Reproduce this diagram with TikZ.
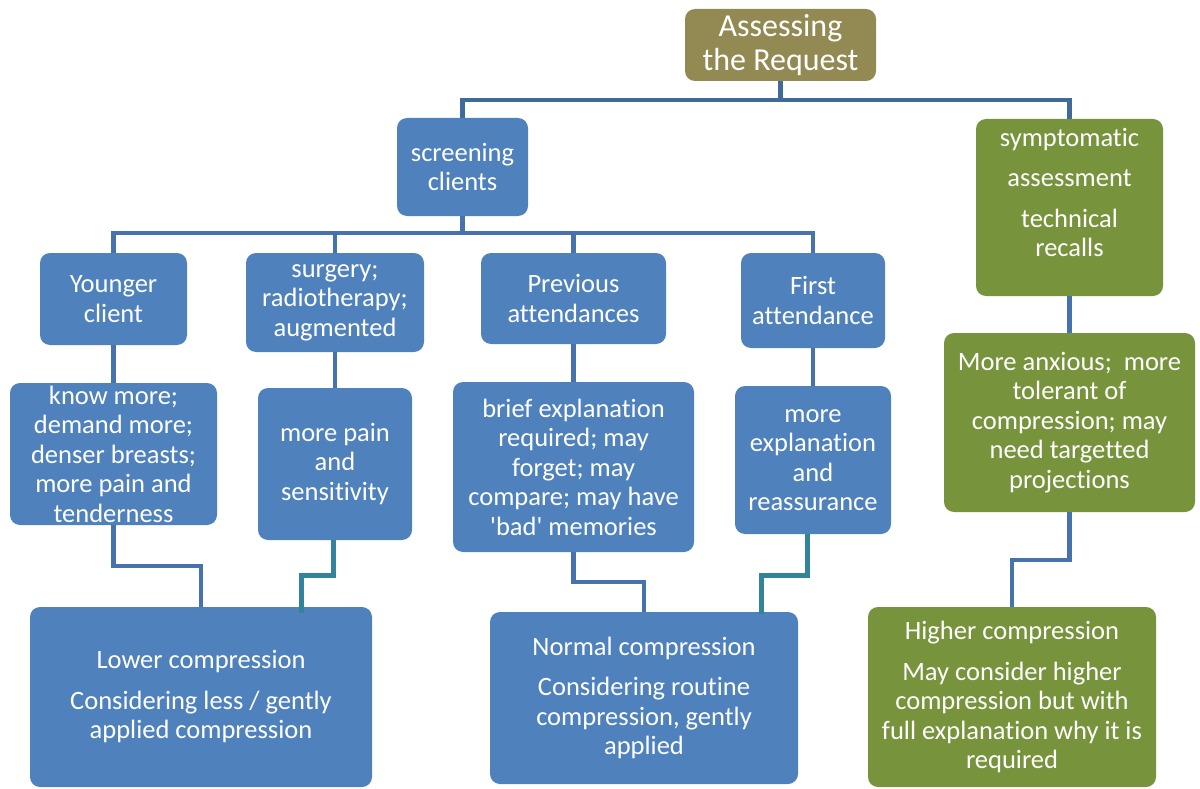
\documentclass[tikz,border=0pt]{standalone}
\usepackage{fontspec}
\setmainfont{Carlito}[Ligatures={TeX,NoCommon}]
\definecolor{boxblue}{HTML}{4F81BD}
\definecolor{boxgreen}{HTML}{77933C}
\definecolor{boxolive}{HTML}{938953}
\definecolor{linkblue}{HTML}{4673AE}
\definecolor{linkdark}{HTML}{3F6A9A}
\definecolor{linkteal}{HTML}{31849B}
\begin{document}
\begin{tikzpicture}
        [x=1pt,y=-1pt,
         every node/.style={rounded corners=10pt,text=white,align=center,inner sep=0pt,font=\fontsize{26.5}{29.5}\selectfont},
         bluebox/.style={fill=boxblue},
         greenbox/.style={fill=boxgreen},
         topbox/.style={fill=boxolive,font=\fontsize{32}{34}\selectfont},
         link/.style={draw=linkblue,line width=4.5pt},
         toplink/.style={draw=linkdark,line width=4.5pt},
         tealink/.style={draw=linkteal,line width=5pt}]
        \useasboundingbox (0,0) rectangle (1200,789);

        \node[topbox,minimum width=191pt,minimum height=72pt] (req) at (780.5,45) {Assessing\\the Request};
        \node[bluebox,minimum width=131pt,minimum height=98pt] (screen) at (462.5,167) {screening\\clients};
        \node[greenbox,minimum width=187pt,minimum height=177pt] (sympt) at (1069.5,207.5)
            {symptomatic\\[11pt]assessment\\[11pt]technical\\recalls\rule[-30pt]{0pt}{30pt}};

        \node[bluebox,minimum width=147pt,minimum height=92pt] (young) at (113.5,299) {Younger\\client};
        \node[bluebox,minimum width=178pt,minimum height=99pt] (surgery) at (335,302.5) {surgery;\\radiotherapy;\\augmented};
        \node[bluebox,minimum width=185pt,minimum height=91pt] (previous) at (573.5,298.5) {Previous\\attendances};
        \node[bluebox,minimum width=144pt,minimum height=95pt] (first) at (813,300.5) {First\\attendance};

        \node[bluebox,minimum width=207pt,minimum height=142pt] (know) at (113.5,454)
            {know more;\\demand more;\\denser breasts;\\more pain and\\tenderness};
        \node[bluebox,minimum width=154pt,minimum height=152pt] (pain) at (335,464) {more pain\\and\\sensitivity};
        \node[bluebox,minimum width=241pt,minimum height=170pt] (brief) at (573.5,467)
            {brief explanation\\required; may\\forget; may\\compare; may have\\\textquotesingle bad\textquotesingle\ memories};
        \node[bluebox,minimum width=156pt,minimum height=148pt] (moreexpl) at (813,460) {more\\explanation\\and\\reassurance};
        \node[greenbox,minimum width=251pt,minimum height=179pt] (anxious) at (1069.5,422.5)
            {More anxious;\ \ more\\tolerant of\\compression; may\\need targetted\\projections};

        \node[bluebox,minimum width=342pt,minimum height=180pt] (lower) at (201,697)
            {Lower compression\\[11pt]Considering less / gently\\applied compression};
        \node[bluebox,minimum width=308pt,minimum height=172pt] (normal) at (644,698)
            {Normal compression\\[11pt]Considering routine\\compression, gently\\applied};
        \node[greenbox,minimum width=288pt,minimum height=180pt] (higher) at (1012,697)
            {Higher compression\\[11pt]May consider higher\\compression but with\\full explanation why it is\\required};

        \path[toplink] (req.south) -- ++(0,19) -| (screen.north);
        \path[toplink] (req.south) -- ++(0,19) -| (sympt.north);
        \path[link] (screen.south) -- ++(0,17) -| (young.north);
        \path[link] (screen.south) -- ++(0,17) -| (surgery.north);
        \path[link] (screen.south) -- ++(0,17) -| (previous.north);
        \path[link] (screen.south) -- ++(0,17) -| (first.north);

        \path[link] (young.south) -- (know.north);
        \path[link] (surgery.south) -- (pain.north);
        \path[link] (previous.south) -- (brief.north);
        \path[link] (first.south) -- (moreexpl.north);
        \path[link] (sympt.south) -- (anxious.north);

        \path[link] (know.south) -- ++(0,41) -| (lower.north);
        \path[tealink] ([xshift=-2pt]pain.south) -- ++(0,35) -| ([xshift=100pt,yshift=-6pt]lower.north);
        \path[link] (brief.south) -- ++(0,30) -| (normal.north);
        \path[tealink] ([xshift=-6pt]moreexpl.south) -- ++(0,41) -| ([xshift=117pt,yshift=-2pt]normal.north);
        \path[link] (anxious.south) -- ++(0,48) -| (higher.north);

    \end{tikzpicture}
\end{document}
